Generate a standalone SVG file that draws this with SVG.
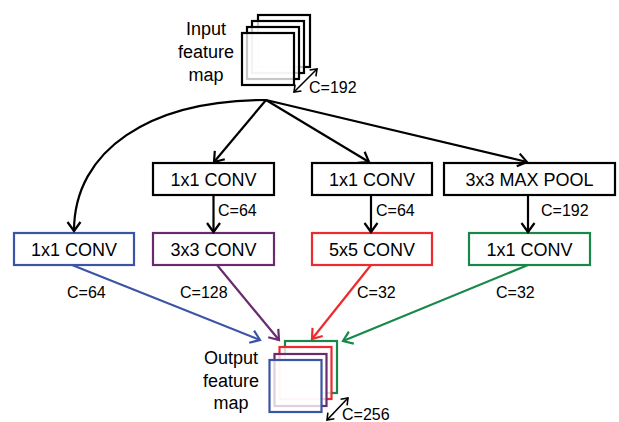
<svg xmlns="http://www.w3.org/2000/svg" width="619" height="422" viewBox="0 0 619 422">
<style>
text{font-family:"Liberation Sans",Arial,sans-serif;fill:#000}
.lbl{font-size:18px;text-anchor:middle}
.sm{font-size:16px}
.box{fill:#fff;stroke-width:2.2}
.sq{fill:#fff;fill-opacity:0.78;stroke-width:2.2}
.ln{fill:none;stroke-width:2.2}
.dbl{fill:none;stroke-width:1.6}
</style>
<defs>
<marker id="ak" markerUnits="userSpaceOnUse" markerWidth="20" markerHeight="20" viewBox="-12 -10 14 20" refX="0" refY="0" orient="auto" overflow="visible"><path d="M-9,-6.5 L0,0 L-9,6.5" fill="none" stroke="#000" stroke-width="2.2"/></marker>
<marker id="ad" markerUnits="userSpaceOnUse" markerWidth="20" markerHeight="20" viewBox="-12 -10 14 20" refX="0" refY="0" orient="auto-start-reverse" overflow="visible"><path d="M-6,-4.5 L0,0 L-6,4.5" fill="none" stroke="#000" stroke-width="1.6"/></marker>
<marker id="ab" markerUnits="userSpaceOnUse" markerWidth="20" markerHeight="20" viewBox="-12 -10 14 20" refX="0" refY="0" orient="auto" overflow="visible"><path d="M-9,-6.5 L0,0 L-9,6.5" fill="none" stroke="#3a55a5" stroke-width="2.2"/></marker>
<marker id="ap" markerUnits="userSpaceOnUse" markerWidth="20" markerHeight="20" viewBox="-12 -10 14 20" refX="0" refY="0" orient="auto" overflow="visible"><path d="M-9,-6.5 L0,0 L-9,6.5" fill="none" stroke="#6a2a70" stroke-width="2.2"/></marker>
<marker id="ar" markerUnits="userSpaceOnUse" markerWidth="20" markerHeight="20" viewBox="-12 -10 14 20" refX="0" refY="0" orient="auto" overflow="visible"><path d="M-9,-6.5 L0,0 L-9,6.5" fill="none" stroke="#ee2a2e" stroke-width="2.2"/></marker>
<marker id="ag" markerUnits="userSpaceOnUse" markerWidth="20" markerHeight="20" viewBox="-12 -10 14 20" refX="0" refY="0" orient="auto" overflow="visible"><path d="M-9,-6.5 L0,0 L-9,6.5" fill="none" stroke="#17884a" stroke-width="2.2"/></marker>
</defs>

<g id="input">
<rect class="sq" x="258" y="15" width="52" height="52" stroke="#000"/>
<rect class="sq" x="252" y="21" width="52" height="52" stroke="#000"/>
<rect class="sq" x="247" y="27" width="52" height="52" stroke="#000"/>
<rect class="sq" x="242" y="33" width="52" height="52" stroke="#000"/>
<text class="lbl" x="206" y="35">Input</text>
<text class="lbl" x="206" y="58">feature</text>
<text class="lbl" x="206" y="81">map</text>
<line class="dbl" x1="294" y1="92" x2="317" y2="69" stroke="#000" marker-start="url(#ad)" marker-end="url(#ad)"/>
<text class="sm" x="309" y="93">C=192</text>
</g>

<g id="conv1a"><rect class="box" x="153" y="163" width="121" height="32" stroke="#000"/><text class="lbl" x="213.5" y="186">1x1 CONV</text></g>
<g id="conv1b"><rect class="box" x="312" y="163" width="120" height="32" stroke="#000"/><text class="lbl" x="372" y="186">1x1 CONV</text></g>
<g id="pool"><rect class="box" x="444" y="163" width="171" height="32" stroke="#000"/><text class="lbl" x="529.5" y="186">3x3 MAX POOL</text></g>

<g id="blue"><rect class="box" x="14" y="233" width="120" height="32" stroke="#3a55a5"/><text class="lbl" x="74" y="256">1x1 CONV</text></g>
<g id="purple"><rect class="box" x="153" y="233" width="121" height="32" stroke="#6a2a70"/><text class="lbl" x="213.5" y="256">3x3 CONV</text></g>
<g id="red"><rect class="box" x="312" y="233" width="120" height="32" stroke="#ee2a2e"/><text class="lbl" x="372" y="256">5x5 CONV</text></g>
<g id="green"><rect class="box" x="469" y="233" width="121" height="32" stroke="#17884a"/><text class="lbl" x="529.5" y="256">1x1 CONV</text></g>

<g id="connectors">
<path class="ln" d="M266,100 C150,100 74,150 74,231" stroke="#000" marker-end="url(#ak)"/>
<line class="ln" x1="266" y1="100" x2="214" y2="162" stroke="#000" marker-end="url(#ak)"/>
<line class="ln" x1="266" y1="100" x2="369" y2="162" stroke="#000" marker-end="url(#ak)"/>
<line class="ln" x1="266" y1="100" x2="527" y2="162" stroke="#000" marker-end="url(#ak)"/>
<line class="ln" x1="213.5" y1="195" x2="213.5" y2="232" stroke="#000" marker-end="url(#ak)"/>
<line class="ln" x1="371" y1="195" x2="371" y2="232" stroke="#000" marker-end="url(#ak)"/>
<line class="ln" x1="528" y1="195" x2="528" y2="232" stroke="#000" marker-end="url(#ak)"/>
<text class="sm" x="218" y="216">C=64</text>
<text class="sm" x="376" y="216">C=64</text>
<text class="sm" x="541" y="216">C=192</text>
<line class="ln" x1="72" y1="265" x2="260" y2="340" stroke="#3a55a5" marker-end="url(#ab)"/>
<line class="ln" x1="217" y1="265" x2="279" y2="340" stroke="#6a2a70" marker-end="url(#ap)"/>
<line class="ln" x1="371" y1="265" x2="312" y2="339" stroke="#ee2a2e" marker-end="url(#ar)"/>
<line class="ln" x1="528" y1="265" x2="343" y2="341" stroke="#17884a" marker-end="url(#ag)"/>
<text class="sm" x="67" y="298">C=64</text>
<text class="sm" x="180" y="298">C=128</text>
<text class="sm" x="357" y="298">C=32</text>
<text class="sm" x="496" y="298">C=32</text>
</g>

<g id="output">
<rect class="sq" x="285" y="341" width="52" height="52" stroke="#17884a"/>
<rect class="sq" x="279.5" y="347" width="52" height="52" stroke="#ee2a2e"/>
<rect class="sq" x="274.5" y="354" width="52" height="52" stroke="#6a2a70"/>
<rect class="sq" x="269.5" y="360" width="52" height="52" stroke="#3a55a5"/>
<text class="lbl" x="231" y="364">Output</text>
<text class="lbl" x="231" y="387">feature</text>
<text class="lbl" x="231" y="409">map</text>
<line class="dbl" x1="327" y1="420" x2="348" y2="398" stroke="#000" marker-start="url(#ad)" marker-end="url(#ad)"/>
<text class="sm" x="342" y="420">C=256</text>
</g>
</svg>
